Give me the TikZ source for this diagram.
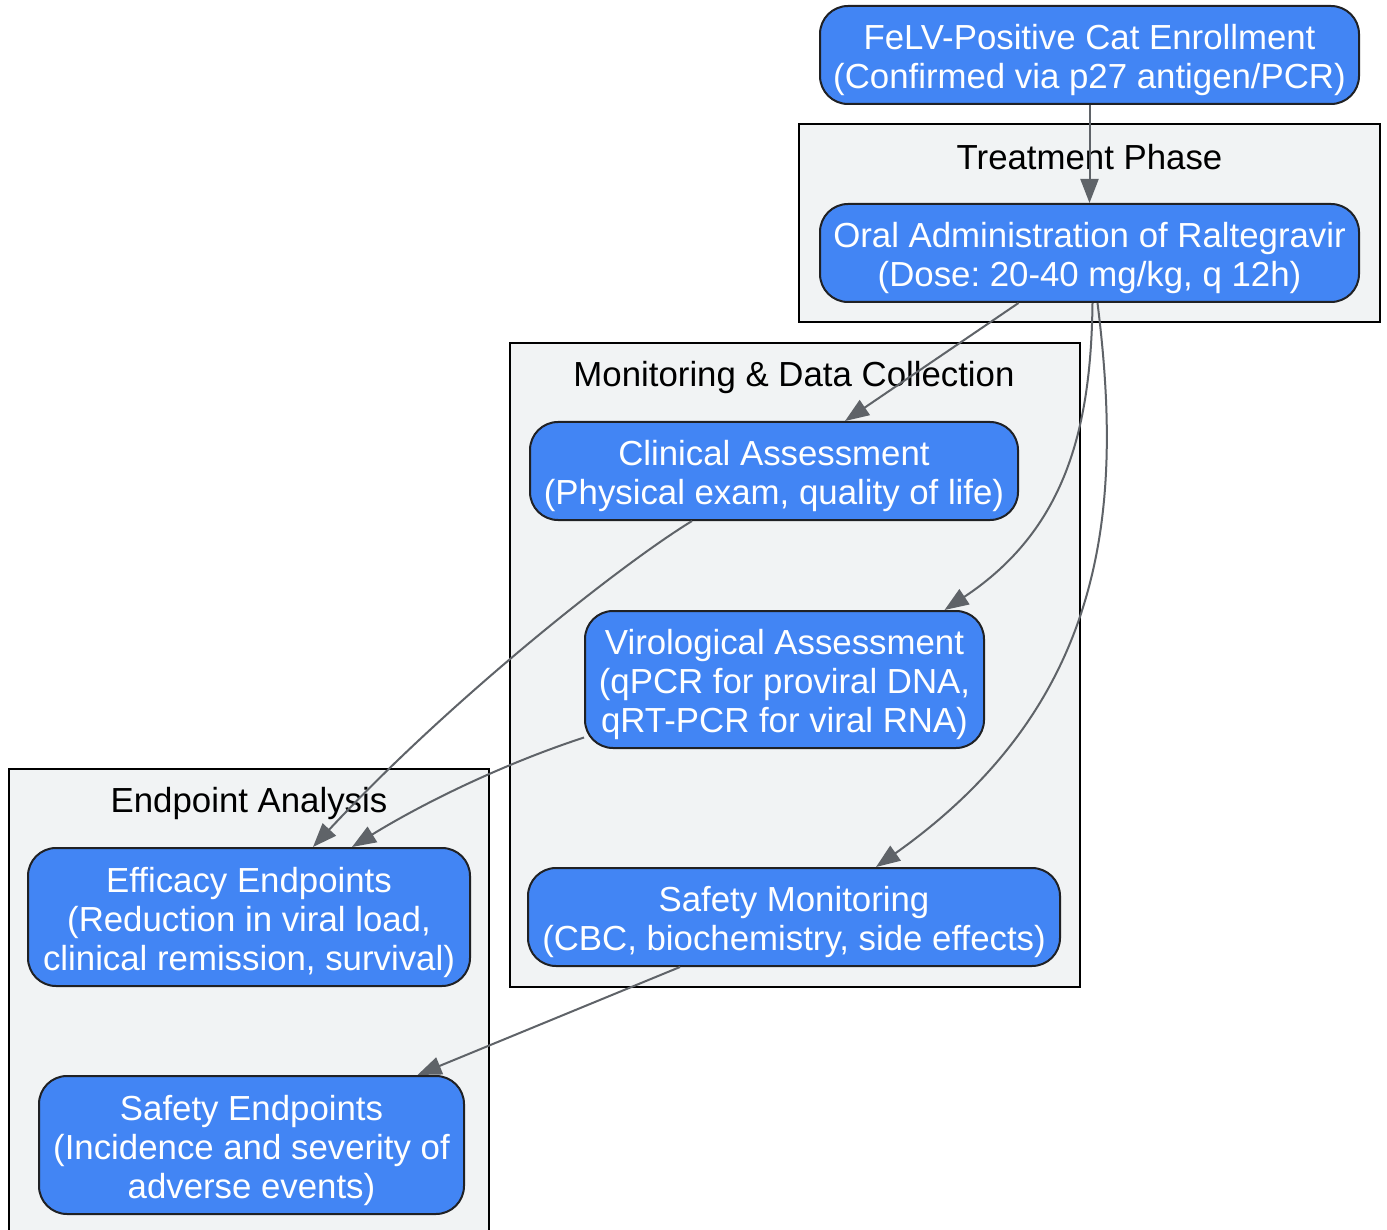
\documentclass[tikz,border=0pt]{standalone}
\usepackage{fontspec}
\setmainfont{Liberation Sans}
\usetikzlibrary{arrows.meta}
\frenchspacing
\definecolor{nodeblue}{HTML}{4285F4}
\definecolor{nodeedge}{HTML}{202124}
\definecolor{clfill}{HTML}{F1F3F4}
\definecolor{edgegray}{HTML}{5F6368}
\newcommand\mytopstrut{\rule{0pt}{36pt}}
\newcommand\mybotstrut{\rule[-8pt]{0pt}{8pt}}
\tikzset{
  box/.style={draw=nodeedge, line width=2pt, fill=nodeblue, rounded corners=28pt,
    text=white, align=center, inner sep=0pt, font=\fontsize{34.8}{39}\selectfont},
  cluster/.style={draw=black, line width=2pt, fill=clfill},
  cllabel/.style={text=black, font=\fontsize{34.8}{39}\selectfont, inner sep=0pt, anchor=base},
  edge/.style={draw=edgegray, line width=2pt, -{Triangle[length=24pt,width=18pt]}}
}
\begin{document}
\begin{tikzpicture}[x=1pt,y=-1pt]
\useasboundingbox (0,0) rectangle (1387,1230);
\fill[white] (0,0) rectangle (1387,1230);
% clusters
\draw[cluster] (799,124) rectangle (1380,322);
\node[cllabel] (lt) at (1089.5,170) {Treatment Phase};
\draw[cluster] (510,343) rectangle (1080,987);
\node[cllabel] (lm) at (794,387) {Monitoring \& Data Collection};
\draw[cluster] (9,769) rectangle (489,1240);
\node[cllabel] (le) at (249,812) {Endpoint Analysis};
% nodes
\node[box, minimum width=539pt, minimum height=98pt] (enroll) at (1089.5,55)
  {\mytopstrut FeLV-Positive Cat Enrollment\\(Confirmed via p27 antigen/PCR)\mybotstrut};
\node[box, minimum width=539pt, minimum height=98pt] (oral) at (1089.5,253)
  {\mytopstrut Oral Administration of Raltegravir\\(Dose: 20-40 mg/kg, q 12h)\mybotstrut};
\node[box, minimum width=488pt, minimum height=98pt] (clin) at (774,471)
  {\mytopstrut Clinical Assessment\\(Physical exam, quality of life)\mybotstrut};
\node[box, minimum width=399pt, minimum height=137pt] (viro) at (784.5,679.5)
  {\mytopstrut Virological Assessment\\(qPCR for proviral DNA,\\qRT-PCR for viral RNA)\mybotstrut};
\node[box, minimum width=532pt, minimum height=98pt] (safm) at (794,917)
  {\mytopstrut Safety Monitoring\\(CBC, biochemistry, side effects)\mybotstrut};
\node[box, minimum width=442pt, minimum height=138pt] (eff) at (249,917)
  {\mytopstrut Efficacy Endpoints\\(Reduction in viral load,\\clinical remission, survival)\mybotstrut};
\node[box, minimum width=425pt, minimum height=138pt] (safe) at (251.5,1145)
  {\mytopstrut Safety Endpoints\\(Incidence and severity of\\adverse events)\mybotstrut};
% edges
\draw[edge] (enroll.south) -- (oral.north);
\draw[edge] ([xshift=-71pt]oral.south) -- ([xshift=71pt]clin.north);
\draw[edge] ([xshift=3pt]oral.south) .. controls (1091,430) and (1065,530) .. ([xshift=160pt]viro.north);
\draw[edge] ([xshift=8pt]oral.south) .. controls (1122,500) and (1112,700) .. ([xshift=82pt]safm.north);
\draw[edge] ([xshift=-82pt]clin.south) .. controls (620,565) and (450,700) .. ([xshift=64pt]eff.north);
\draw[edge] ([yshift=-58pt]viro.west) .. controls (500,765) and (420,805) .. ([xshift=103pt]eff.north);
\draw[edge] ([xshift=-114pt]safm.south) -- ([xshift=166pt]safe.north);
\end{tikzpicture}
\end{document}
